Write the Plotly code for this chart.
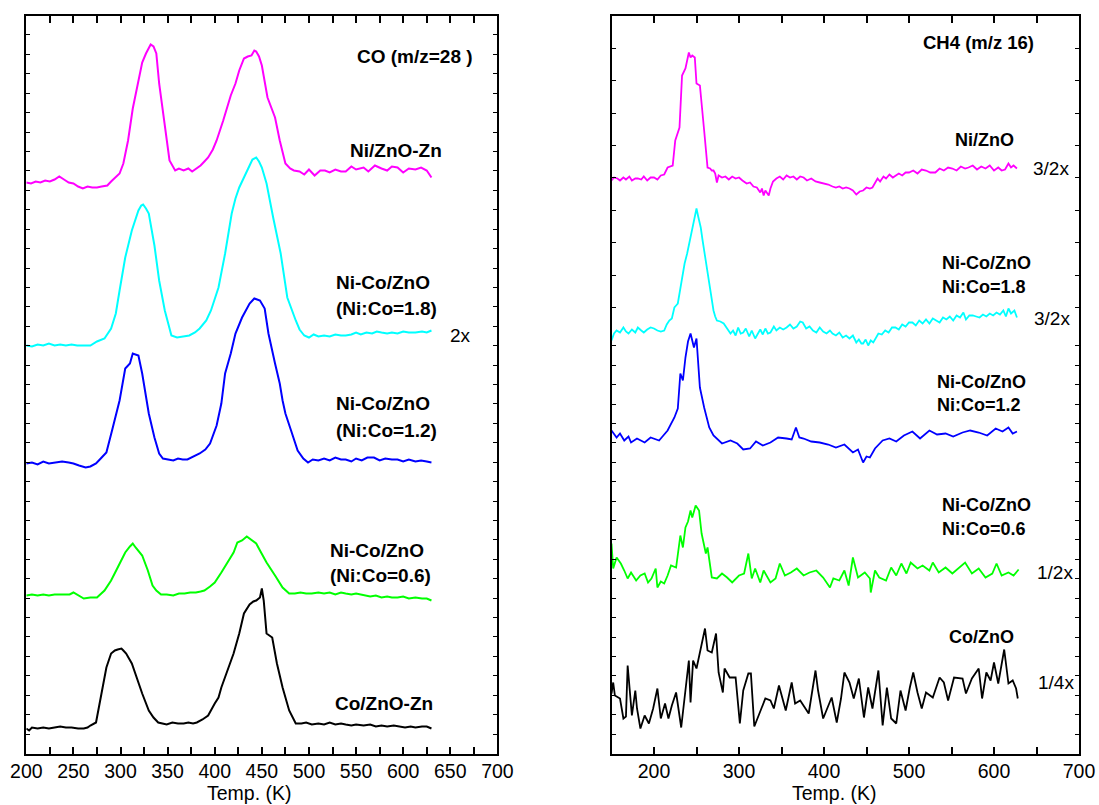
import plotly.graph_objects as go

# ---------------- DATA (temperature K, signal a.u. incl. vertical offset) ----------------
# CO (m/z=28) panel
co_niznozn_T = [200,205,210,215,220,225,230,235,240,245,250,255,260,265,270,275,280,286,290,295,299,303,308,313,319,323,327,330,332,335,338,341,347,352,358,362,367,372,376,381,385,389,393,398,402,409,417,422,426,431,435,439,442,444,447,450,456,464,469,475,480,484,490,495,500,506,512,517,522,528,534,539,545,550,558,563,570,577,583,588,594,600,606,613,619,625,630]
co_niznozn_v = [571,570,572,571,573,572,574,577,574,571,570,567,565,567,566,566,567,568,572,577,580,590,613,645,673,691,700,705,709,707,700,670,626,593,583,585,583,585,582,585,588,592,596,604,613,633,658,670,683,695,697,698,703,702,697,688,656,636,613,590,585,583,582,579,584,578,583,583,581,584,582,582,587,584,586,582,588,585,583,587,586,581,585,584,586,583,576]

co_nico18_T = [200,206,212,218,224,230,236,242,248,254,260,268,275,283,290,295,299,305,312,319,322,324,327,330,336,341,347,354,360,366,373,379,384,391,396,404,411,418,422,426,433,437,440,444,447,450,455,462,470,477,481,486,490,495,500,505,510,516,522,528,534,539,545,550,555,561,567,572,577,583,588,594,600,606,613,620,625,630]
co_nico18_v = [408,407,409,408,410,408,409,408,409,408,408,408,412,415,425,440,463,496,523,543,548,549,545,540,508,473,443,418,416,417,418,421,425,433,443,466,500,540,555,566,580,589,594,596,592,586,570,536,500,456,445,433,424,418,416,419,417,418,417,419,418,418,419,421,419,421,420,422,421,420,421,420,422,421,421,422,421,423]

co_nico12_T = [200,206,212,218,224,230,238,245,250,256,263,268,274,279,285,291,295,299,305,310,313,316,319,323,327,330,336,341,345,350,356,361,366,371,376,380,384,390,395,402,407,411,417,422,429,437,442,445,448,453,457,464,469,472,475,481,488,494,499,504,510,516,522,528,534,539,545,550,556,562,569,575,581,588,594,600,606,613,619,625,630]
co_nico12_v = [290,291,289,292,290,291,292,291,290,288,286,287,290,295,301,323,338,353,385,390,400,399,398,380,356,340,316,300,295,294,293,295,294,294,296,298,300,304,310,328,350,380,400,420,436,450,455,454,453,445,420,390,370,353,340,323,303,295,291,294,293,295,293,296,294,294,292,295,293,296,296,293,295,294,294,292,294,292,293,292,291]

co_nico06_T = [200,206,212,218,224,230,238,246,250,255,261,268,275,283,290,297,305,310,313,316,319,323,329,334,338,343,349,356,362,368,374,380,385,389,395,400,407,415,420,424,429,434,437,440,444,448,455,464,472,479,485,491,497,503,510,516,522,528,534,539,545,550,558,565,571,577,583,588,594,600,606,613,620,625,630]
co_nico06_v = [158,159,158,159,158,159,159,159,161,158,155,156,156,163,173,186,201,207,210,206,203,198,183,168,163,159,159,158,160,160,161,161,162,163,167,171,181,193,201,211,213,217,215,213,210,203,191,178,166,160,160,161,160,160,161,160,161,159,161,160,159,160,158,157,158,156,157,156,156,157,155,156,155,155,153]

co_coznozn_T = [200,203,206,212,218,224,230,236,242,248,255,261,265,268,274,277,281,285,290,294,297,301,303,306,312,318,323,330,335,340,345,349,355,361,367,372,377,381,387,393,400,404,407,415,420,426,431,437,441,444,448,450,452,455,461,466,472,479,486,492,497,503,510,516,522,528,534,539,545,550,558,565,571,577,583,590,596,602,608,613,620,625,630]
co_coznozn_v = [25,23,26,25,26,25,26,27,26,26,25,25,26,28,31,46,66,86,100,103,104,105,103,100,90,73,60,43,36,31,30,29,31,30,30,31,30,31,34,38,50,56,66,86,100,120,140,149,152,153,156,165,153,120,116,90,66,43,30,30,31,29,30,29,31,29,30,29,28,29,28,29,27,28,27,28,27,26,27,26,27,27,25]

# CH4 (m/z 16) panel
ch4_nizno_T = [150,153,157,160,164,167,171,174,178,181,185,188,192,196,200,204,208,212,216,219,222,225,230,233,237,241,243,245,248,250,254,259,263,266,268,270,272,274,276,280,284,288,292,296,300,304,309,313,317,321,325,327,329,331,333,335,337,340,344,348,352,356,360,364,368,372,376,380,385,390,395,400,405,410,414,418,422,426,430,434,438,442,446,450,454,457,460,463,466,470,473,477,481,484,488,492,496,500,505,510,515,520,525,531,536,541,546,551,556,561,566,570,575,580,585,590,595,600,605,609,613,617,620,623,627]
ch4_nizno_v = [573,576,575,573,576,574,577,573,575,575,574,577,573,576,576,574,578,579,586,587,588,613,626,678,685,701,696,698,696,670,668,623,586,585,583,583,580,571,578,576,577,574,577,575,576,573,570,571,567,566,561,565,558,563,560,558,565,572,575,577,574,578,576,577,574,577,576,573,575,572,571,570,569,567,566,567,565,566,565,563,559,562,563,566,565,566,570,575,572,577,575,579,576,578,580,578,581,581,583,580,584,583,581,581,585,583,586,585,583,587,585,586,588,584,587,585,588,583,586,583,584,590,586,588,585]

ch4_nico18_T = [150,153,156,160,164,167,170,174,178,181,185,188,192,196,200,204,208,212,215,218,221,224,226,228,231,233,236,239,242,244,246,247,249,250,252,255,257,259,262,265,268,270,272,274,278,282,286,290,293,296,299,302,305,308,312,315,319,322,325,328,331,334,337,341,344,348,352,356,360,364,368,372,375,379,383,387,391,395,399,403,407,410,414,418,422,426,430,434,438,441,444,446,449,452,455,458,461,464,468,472,476,480,484,488,492,496,500,504,508,512,516,520,524,528,532,536,540,544,548,552,556,560,564,567,571,575,579,583,587,591,595,599,603,607,611,614,617,620,624,627]
ch4_nico18_v = [413,420,423,421,426,422,420,424,421,426,423,421,424,426,425,423,422,423,429,433,435,446,448,450,465,476,490,500,512,520,526,533,540,545,537,526,514,503,488,473,456,443,437,433,432,430,425,420,423,418,426,420,421,425,417,423,415,420,424,419,425,420,421,427,423,426,424,426,429,425,427,432,431,425,427,423,421,426,422,420,423,420,418,421,416,418,415,418,411,414,410,410,414,408,413,411,416,420,419,423,421,426,426,424,429,427,431,431,428,433,430,434,430,435,433,431,436,434,437,433,438,436,441,434,438,438,437,436,439,437,440,438,441,439,443,437,445,440,443,436]

ch4_nico12_T = [150,156,160,165,170,173,180,189,196,206,211,216,224,228,231,234,237,240,243,247,250,254,259,265,270,280,290,298,305,313,320,328,337,346,356,362,367,371,376,385,395,405,414,424,434,440,446,450,454,460,469,477,485,494,504,513,524,533,543,552,563,572,582,592,602,610,617,622,627]
ch4_nico12_v = [323,316,320,313,317,311,315,311,316,313,318,323,336,345,380,373,396,412,420,406,415,366,346,326,318,310,313,310,304,305,312,308,311,316,315,314,326,316,315,312,311,309,306,309,301,304,291,297,296,305,313,315,312,318,322,315,323,319,320,317,321,323,321,318,325,322,326,320,322]

ch4_nico06_T = [150,152,156,161,165,169,173,179,184,189,193,197,202,204,208,212,216,220,226,231,234,237,240,243,245,249,253,256,261,263,268,274,280,286,292,300,306,311,315,319,325,329,337,343,348,354,361,368,376,383,391,399,407,411,418,424,429,434,440,448,454,455,460,465,473,479,485,491,497,502,510,516,524,528,535,543,551,559,566,574,582,590,598,603,609,617,623,629]
ch4_nico06_v = [210,185,196,190,183,175,181,173,178,180,171,175,185,166,172,170,178,188,186,218,206,226,232,243,236,248,243,220,200,206,176,175,180,176,171,178,180,200,175,185,171,183,171,175,190,178,181,185,178,181,183,176,166,175,173,183,168,196,176,181,175,161,183,176,173,186,178,190,180,191,185,188,183,191,181,186,180,186,191,180,185,176,180,190,178,181,178,184]

ch4_cozno_T = [150,152,154,160,164,167,169,174,178,180,184,189,194,199,204,208,213,217,221,226,232,237,241,243,246,250,255,260,263,268,273,276,281,283,289,296,301,305,311,314,318,323,331,337,341,347,355,362,366,372,382,390,393,399,409,415,420,424,430,435,441,447,452,457,464,469,474,479,485,490,496,501,505,510,515,520,528,536,541,546,553,563,567,574,582,586,591,596,600,605,612,617,622,626,628]
ch4_cozno_v = [60,71,58,55,35,37,88,38,63,45,25,38,30,45,65,35,50,35,48,61,26,63,93,51,93,85,106,125,103,101,120,81,61,85,76,76,30,63,80,80,27,38,55,53,45,68,43,71,50,53,40,83,63,35,56,31,55,81,71,55,75,36,66,45,83,28,66,35,30,63,43,66,81,61,45,61,56,76,71,53,76,75,60,75,85,55,81,73,91,70,104,70,73,65,55]

# ---------------- FIGURE ----------------
W, H = 1099, 805
FONT = "Liberation Sans, Arial, Helvetica, sans-serif"

def px(x):
    return x / W

def py(y):
    return 1 - y / H

fig = go.Figure()

left_series = [
    (co_niznozn_T, co_niznozn_v, "#FF00FF"),
    (co_nico18_T, co_nico18_v, "#00FFFF"),
    (co_nico12_T, co_nico12_v, "#0000FF"),
    (co_nico06_T, co_nico06_v, "#00FF00"),
    (co_coznozn_T, co_coznozn_v, "#000000"),
]
right_series = [
    (ch4_nizno_T, ch4_nizno_v, "#FF00FF"),
    (ch4_nico18_T, ch4_nico18_v, "#00FFFF"),
    (ch4_nico12_T, ch4_nico12_v, "#0000FF"),
    (ch4_nico06_T, ch4_nico06_v, "#00FF00"),
    (ch4_cozno_T, ch4_cozno_v, "#000000"),
]
for t, v, c in left_series:
    fig.add_trace(go.Scatter(x=t, y=v, mode="lines", line=dict(color=c, width=2),
                             xaxis="x", yaxis="y", showlegend=False, hoverinfo="skip"))
for t, v, c in right_series:
    fig.add_trace(go.Scatter(x=t, y=v, mode="lines", line=dict(color=c, width=1.8),
                             xaxis="x2", yaxis="y2", showlegend=False, hoverinfo="skip"))

YMAX = 737.8
Y_DOM = [(H - 753.5) / H, (H - 15.7) / H]
right_ytick_vals = [705.5, 673.5, 640.5, 608.5, 576.5, 543.5, 511.5, 478.5, 446.5,
                    407.8, 388.4, 369.0, 349.5, 330.1, 310.7, 291.3, 271.9, 252.4, 233.0,
                    213.6, 194.2, 174.8, 155.3, 135.9, 116.5, 97.1, 77.7, 58.3, 38.8, 19.4]

xcommon = dict(showline=True, linecolor="black", linewidth=2, mirror="ticks",
               ticks="inside", ticklen=7, tickwidth=1.5, tickcolor="black",
               showgrid=False, zeroline=False, automargin=False,
               tickfont=dict(family=FONT, size=19.5, color="black"), ticklabelstandoff=-1)
ycommon = dict(showline=True, linecolor="black", linewidth=2, mirror="ticks",
               ticks="inside", ticklen=4, tickwidth=1.2, tickcolor="black",
               showgrid=False, zeroline=False, showticklabels=False, automargin=False,
               range=[0, YMAX], domain=Y_DOM)

fig.update_layout(
    width=W, height=H,
    margin=dict(l=0, r=0, t=0, b=0),
    paper_bgcolor="white", plot_bgcolor="white",
    xaxis=dict(domain=[px(26.3), px(497.4)], range=[200, 700], tickmode="linear",
               tick0=200, dtick=50,
               minor=dict(dtick=25, ticks="inside", ticklen=7, tickwidth=1.5, tickcolor="black", showgrid=False),
               anchor="y", **xcommon),
    yaxis=dict(anchor="x", tickmode="linear", tick0=0, dtick=19.42, **ycommon),
    xaxis2=dict(domain=[px(611.5), px(1079)], range=[150, 700], tickmode="linear",
                tick0=200, dtick=100,
                minor=dict(dtick=50, ticks="inside", ticklen=7, tickwidth=1.5, tickcolor="black", showgrid=False),
                anchor="y2", **xcommon),
    yaxis2=dict(anchor="x2", tickmode="array", tickvals=right_ytick_vals, **ycommon),
)

def label(text, x, y, size=19, bold=True, anchor="center"):
    t = f"<b>{text}</b>" if bold else text
    fig.add_annotation(text=t, x=px(x), y=py(y), xref="paper", yref="paper",
                       xanchor=anchor, yanchor="middle", showarrow=False,
                       font=dict(family=FONT, size=size, color="black"))

def axis_title(text, x):
    fig.add_annotation(text=text, x=px(x), y=0, xref="paper", yref="paper",
                       xanchor="center", yanchor="bottom", showarrow=False, borderpad=0,
                       font=dict(family=FONT, size=19.5, color="black"))

# left panel labels
label("CO (m/z=28 )", 414.5, 57)
label("Ni/ZnO-Zn", 396, 150)
label("Ni-Co/ZnO", 334, 282, anchor="left")
label("(Ni:Co=1.8)", 334, 308, anchor="left")
label("2x", 460, 335, bold=False)
label("Ni-Co/ZnO", 334, 403, anchor="left")
label("(Ni:Co=1.2)", 334, 430, anchor="left")
label("Ni-Co/ZnO", 328, 550, anchor="left")
label("(Ni:Co=0.6)", 328, 575, anchor="left")
label("Co/ZnO-Zn", 333, 703, anchor="left")
axis_title("Temp. (K)", 249)

# right panel labels
label("CH4 (m/z 16)", 978, 43, size=18.5)
label("Ni/ZnO", 984, 140, size=18)
label("3/2x", 1050.5, 168, bold=False)
label("Ni-Co/ZnO", 940, 263, size=18, anchor="left")
label("Ni:Co=1.8", 940, 287, size=18, anchor="left")
label("3/2x", 1051.5, 318, bold=False)
label("Ni-Co/ZnO", 935, 382, size=18, anchor="left")
label("Ni:Co=1.2", 935, 405, size=18, anchor="left")
label("Ni-Co/ZnO", 940, 505, size=18, anchor="left")
label("Ni:Co=0.6", 940, 529, size=18, anchor="left")
label("1/2x", 1055, 572, bold=False)
label("Co/ZnO", 981, 637, size=18)
label("1/4x", 1056, 682, bold=False)
axis_title("Temp. (K)", 834)

fig.write_html("out.html", config={"displayModeBar": False},
               post_script="document.body.style.margin='0';document.body.style.overflow='hidden';")
